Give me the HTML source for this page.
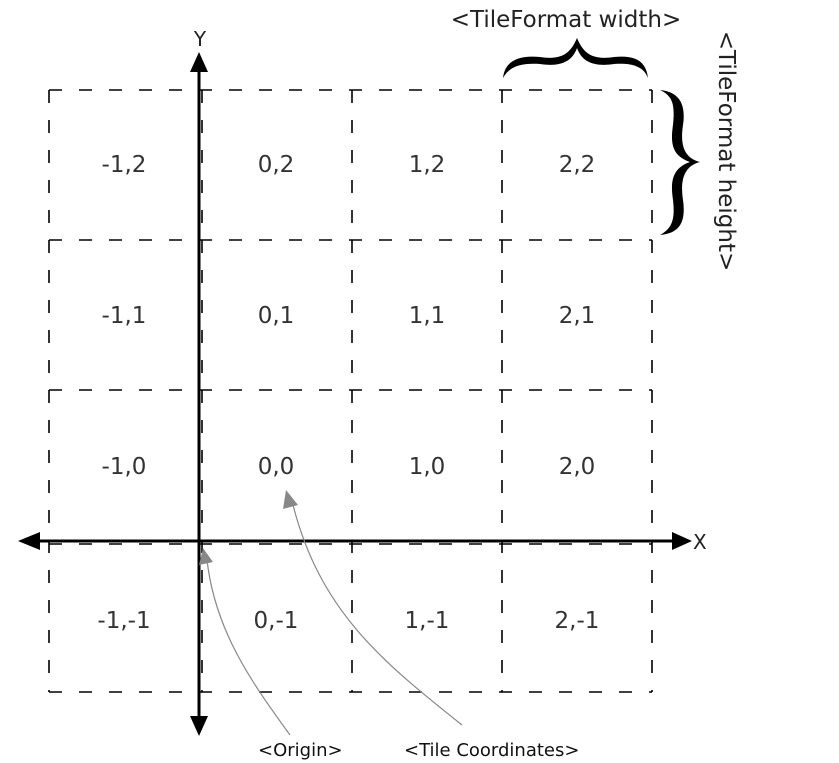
<!DOCTYPE html>
<html><head><meta charset="utf-8"><style>
html,body{margin:0;padding:0;background:#fff;}
svg{display:block;}
text{font-family:"DejaVu Sans","Liberation Sans",sans-serif;}
</style></head><body>
<svg width="839" height="763" viewBox="0 0 839 763" xmlns="http://www.w3.org/2000/svg">
<g stroke="#000" stroke-width="1.6" stroke-dasharray="13,17" fill="none">
  <line x1="49" y1="90" x2="652" y2="90"/>
  <line x1="49" y1="240" x2="652" y2="240"/>
  <line x1="49" y1="390" x2="652" y2="390"/>
  <line x1="49" y1="544" x2="652" y2="544"/>
  <line x1="49" y1="692" x2="652" y2="692"/>
  <line x1="49" y1="90" x2="49" y2="692"/>
  <line x1="202" y1="90" x2="202" y2="692"/>
  <line x1="352" y1="90" x2="352" y2="692"/>
  <line x1="502" y1="90" x2="502" y2="692"/>
  <line x1="652" y1="90" x2="652" y2="692"/>
</g>
<g stroke="#000" stroke-width="3">
  <line x1="199" y1="68" x2="199" y2="718"/>
  <line x1="36" y1="541" x2="676" y2="541"/>
</g>
<g fill="#000">
  <polygon points="199,52 190,72 208,72"/>
  <polygon points="199,736 190,716 208,716"/>
  <polygon points="18,541 40,532 40,550"/>
  <polygon points="692,541 672,532 672,550"/>
</g>
<text x="200" y="46" font-size="20" text-anchor="middle" fill="#222">Y</text>
<text x="693" y="549" font-size="20" fill="#222">X</text>
<g font-size="23" fill="#333" text-anchor="middle">
  <text x="124" y="172">-1,2</text><text x="276" y="172">0,2</text><text x="427" y="172">1,2</text><text x="577" y="172">2,2</text>
  <text x="124" y="323">-1,1</text><text x="276" y="323">0,1</text><text x="427" y="323">1,1</text><text x="577" y="323">2,1</text>
  <text x="124" y="474">-1,0</text><text x="276" y="474">0,0</text><text x="427" y="474">1,0</text><text x="577" y="474">2,0</text>
  <text x="124" y="628">-1,-1</text><text x="276" y="628">0,-1</text><text x="427" y="628">1,-1</text><text x="577" y="628">2,-1</text>
</g>
<text x="566" y="27" font-size="23" text-anchor="middle" fill="#222">&lt;TileFormat width&gt;</text>
<text transform="translate(719,151) rotate(90)" font-size="23" text-anchor="middle" fill="#222">&lt;TileFormat height&gt;</text>
<path d="M503,78 C505,60 520,55 540,57 C560,60 570,55 577,38 C584,55 594,60 614,57 C634,55 646,60 648,78 C643,65 630,63 614,64 C594,67 582,62 577,48 C572,62 560,67 540,64 C524,63 510,65 503,78 Z" fill="#000"/>
<path d="M660,90 C680,92 686,105 683,125 C680,145 684,158 700,162 C684,166 680,180 683,200 C686,222 680,233 660,235 C673,228 675,218 673,200 C670,180 673,168 690,162 C673,156 670,145 673,125 C675,105 673,96 660,90 Z" fill="#000"/>
<g stroke="#888" stroke-width="1.2" fill="none">
  <path d="M290,735 C250,680 215,630 207,560"/>
  <path d="M462,725 C380,660 320,610 293,505"/>
</g>
<g fill="#888">
  <polygon points="203,548 199,565 213,562"/>
  <polygon points="286,490 283,509 298,505"/>
</g>
<g font-size="18" fill="#111">
  <text x="258" y="756">&lt;Origin&gt;</text>
  <text x="404" y="756">&lt;Tile Coordinates&gt;</text>
</g>
</svg>
</body></html>
